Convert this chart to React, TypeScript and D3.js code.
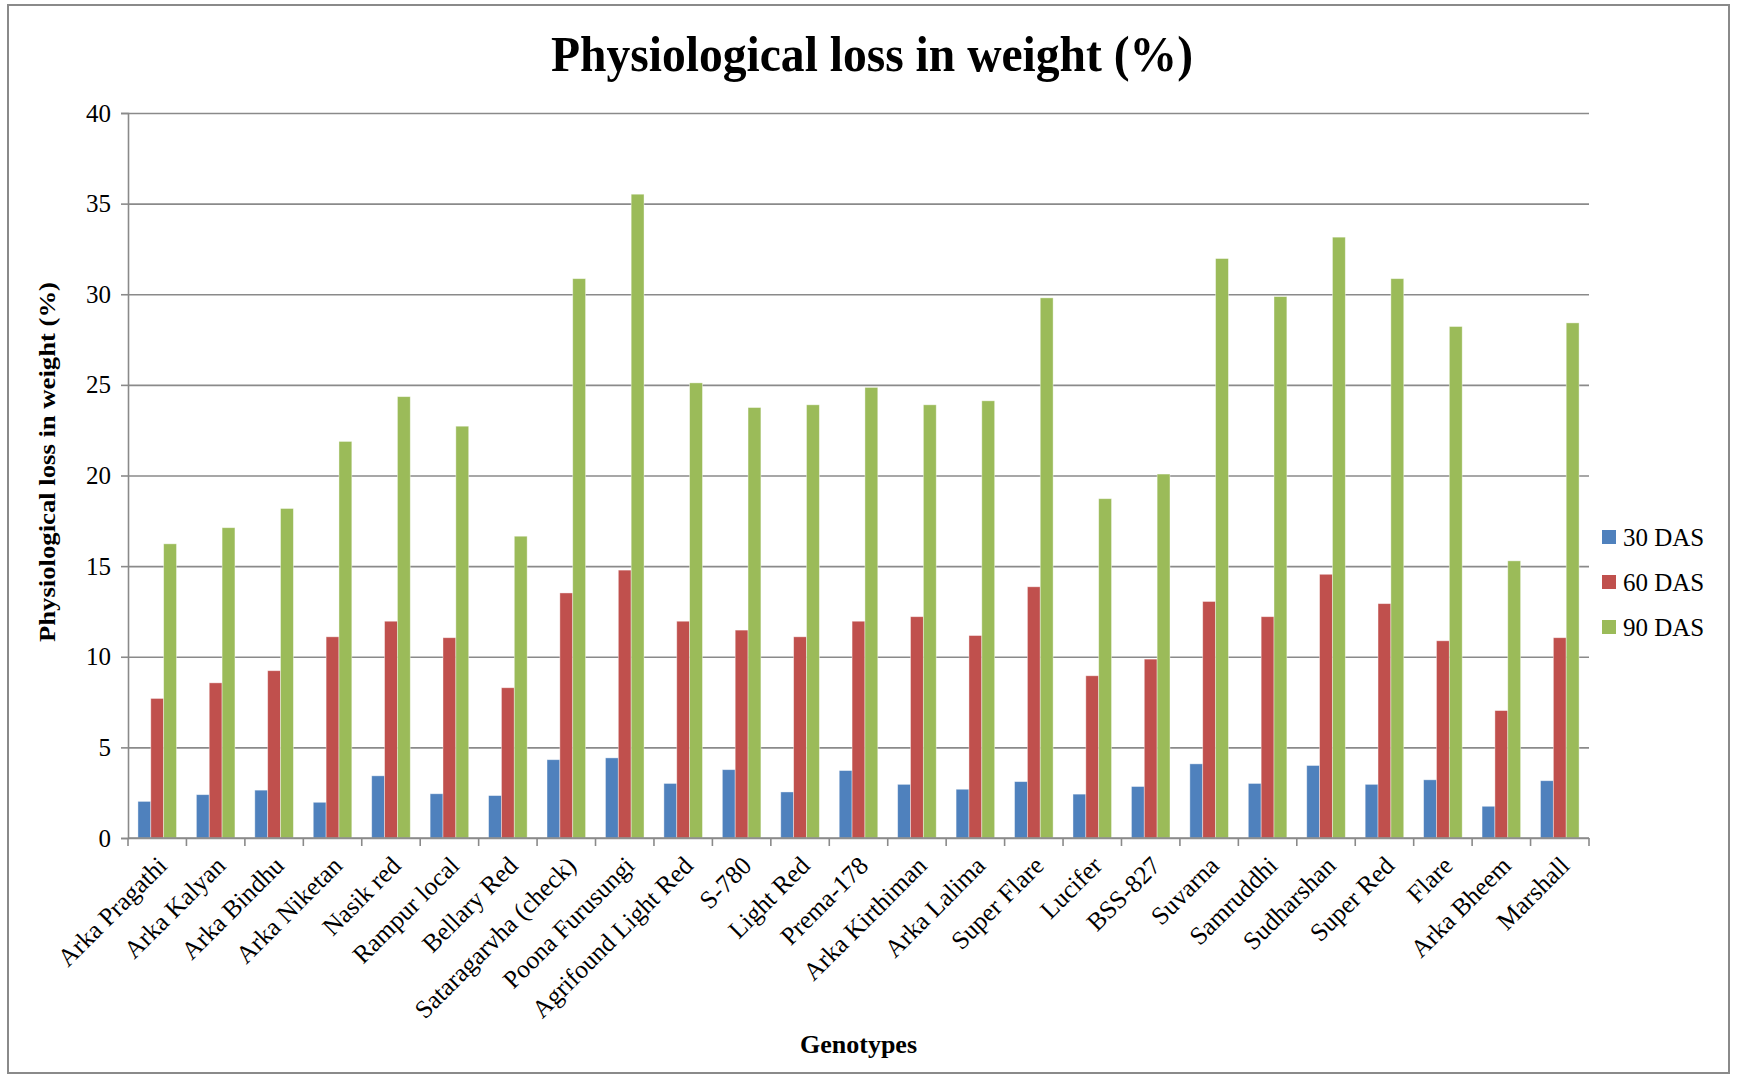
import { useEffect, useRef } from 'react';
import * as d3 from 'd3';

const genotypes = [
  'Arka Pragathi', 'Arka Kalyan', 'Arka Bindhu', 'Arka Niketan', 'Nasik red',
  'Rampur local', 'Bellary Red', 'Sataragarvha (check)', 'Poona Furusungi',
  'Agrifound Light Red', 'S-780', 'Light Red', 'Prema-178', 'Arka Kirthiman',
  'Arka Lalima', 'Super Flare', 'Lucifer', 'BSS-827', 'Suvarna', 'Samruddhi',
  'Sudharshan', 'Super Red', 'Flare', 'Arka Bheem', 'Marshall',
];

const das30 = [
  2.02, 2.39, 2.64, 1.97, 3.43, 2.44, 2.34, 4.32, 4.42, 3.01, 3.77, 2.54, 3.72,
  2.96, 2.69, 3.11, 2.42, 2.84, 4.09, 3.01, 4.0, 2.96, 3.21, 1.75, 3.16,
];
const das60 = [
  7.7, 8.56, 9.23, 11.1, 11.96, 11.05, 8.29, 13.52, 14.78, 11.96, 11.47, 11.1,
  11.96, 12.21, 11.17, 13.86, 8.95, 9.87, 13.05, 12.21, 14.55, 12.93, 10.88,
  7.03, 11.05,
];
const das90 = [
  16.23, 17.12, 18.18, 21.88, 24.35, 22.72, 16.65, 30.86, 35.52, 25.11, 23.75,
  23.9, 24.86, 23.9, 24.12, 29.8, 18.72, 20.08, 31.97, 29.87, 33.15, 30.86,
  28.22, 15.29, 28.42,
];

const seriesNames = ['30 DAS', '60 DAS', '90 DAS'];
const seriesColors = ['#4f81bd', '#c0504d', '#9bbb59'];
const yTicks = [0, 5, 10, 15, 20, 25, 30, 35, 40];

const W = 1737;
const H = 1079;
const FONT = '"Liberation Serif", "Times New Roman", serif';

export default function App() {
  const svgRef = useRef<SVGSVGElement>(null);

  useEffect(() => {
    if (!svgRef.current) return;
    const root = d3.select(svgRef.current);
    root.selectAll('*').remove();

    const margin = { top: 113, right: 148, bottom: 241, left: 128 };
    const width = W - margin.left - margin.right;
    const height = H - margin.top - margin.bottom;

    // chart frame
    root
      .append('rect')
      .attr('x', 8)
      .attr('y', 5)
      .attr('width', 1721)
      .attr('height', 1068)
      .attr('fill', '#fff')
      .attr('stroke', '#8a8a8a')
      .attr('stroke-width', 2);

    // title
    root
      .append('text')
      .attr('x', 872)
      .attr('y', 71)
      .attr('text-anchor', 'middle')
      .attr('font-family', FONT)
      .attr('font-weight', 'bold')
      .attr('font-size', 50)
      .attr('textLength', 642)
      .attr('lengthAdjust', 'spacingAndGlyphs')
      .text('Physiological loss in weight (%)');

    const svg = root
      .append('g')
      .attr('transform', `translate(${margin.left},${margin.top})`);

    const x0 = d3.scaleBand<string>().domain(genotypes).range([0, width]).paddingInner(0.34).paddingOuter(0.17);
    const x1 = d3.scaleBand<number>().domain([0, 1, 2]).range([0, x0.bandwidth()]);
    const y = d3.scaleLinear().domain([0, 40]).range([height, 0]);

    // grid lines
    svg
      .append('g')
      .call(
        d3
          .axisLeft(y)
          .tickValues(yTicks)
          .tickSize(-width)
          .tickFormat(() => '')
      )
      .call((g) => g.select('.domain').remove())
      .selectAll('line')
      .attr('stroke', '#8a8a8a')
      .attr('stroke-width', 1.6);

    // y axis
    const yAxis = svg
      .append('g')
      .call(d3.axisLeft(y).tickValues(yTicks).tickSize(7).tickPadding(10));
    yAxis.select('.domain').attr('stroke', '#8a8a8a').attr('stroke-width', 1.6);
    yAxis.selectAll('line').attr('stroke', '#8a8a8a').attr('stroke-width', 1.6);
    yAxis
      .selectAll('text')
      .attr('font-family', FONT)
      .attr('font-size', 25)
      .attr('fill', '#000');

    // bars
    const seriesData = [das30, das60, das90];
    const groups = svg
      .selectAll('g.group')
      .data(genotypes)
      .enter()
      .append('g')
      .attr('class', 'group')
      .attr('transform', (d) => `translate(${x0(d)},0)`);

    groups
      .selectAll('rect')
      .data((_, i) => seriesData.map((s, k) => ({ k, v: s[i] })))
      .enter()
      .append('rect')
      .attr('x', (d) => x1(d.k) as number)
      .attr('y', (d) => y(d.v))
      .attr('width', x1.bandwidth())
      .attr('height', (d) => height - y(d.v))
      .attr('fill', (d) => seriesColors[d.k])
      .attr('stroke', '#ffffff')
      .attr('stroke-opacity', 0.5)
      .attr('stroke-width', 0.8);

    // x axis
    const step = x0.step();
    const xAxis = svg.append('g').attr('transform', `translate(0,${height})`);
    xAxis
      .append('line')
      .attr('x1', 0)
      .attr('x2', width)
      .attr('stroke', '#8a8a8a')
      .attr('stroke-width', 1.6);
    xAxis
      .selectAll('line.tick')
      .data(d3.range(genotypes.length + 1))
      .enter()
      .append('line')
      .attr('class', 'tick')
      .attr('x1', (i) => i * step)
      .attr('x2', (i) => i * step)
      .attr('y1', 0)
      .attr('y2', 8)
      .attr('stroke', '#8a8a8a')
      .attr('stroke-width', 1.6);
    xAxis
      .selectAll('text.label')
      .data(genotypes)
      .enter()
      .append('text')
      .attr('class', 'label')
      .attr('transform', (d) => {
        const cx = (x0(d) as number) + x0.bandwidth() / 2 + 5;
        return `translate(${cx},23) rotate(-45)`;
      })
      .attr('text-anchor', 'end')
      .attr('dy', '0.35em')
      .attr('font-family', FONT)
      .attr('font-size', 25.5)
      .attr('fill', '#000')
      .text((d) => d);

    // axis titles
    root
      .append('text')
      .attr('x', margin.left + width / 2)
      .attr('y', 1053)
      .attr('text-anchor', 'middle')
      .attr('font-family', FONT)
      .attr('font-weight', 'bold')
      .attr('font-size', 26)
      .text('Genotypes');

    root
      .append('text')
      .attr('transform', 'translate(55,462) rotate(-90)')
      .attr('text-anchor', 'middle')
      .attr('font-family', FONT)
      .attr('font-weight', 'bold')
      .attr('font-size', 24)
      .attr('textLength', 360)
      .attr('lengthAdjust', 'spacingAndGlyphs')
      .text('Physiological loss in weight (%)');

    // legend
    const legend = root
      .append('g')
      .selectAll('g')
      .data(seriesNames)
      .enter()
      .append('g')
      .attr('transform', (_, i) => `translate(1602,${537 + i * 45})`);
    legend
      .append('rect')
      .attr('x', 0)
      .attr('y', -7)
      .attr('width', 14)
      .attr('height', 14)
      .attr('fill', (_, i) => seriesColors[i]);
    legend
      .append('text')
      .attr('x', 21)
      .attr('dy', '0.35em')
      .attr('font-family', FONT)
      .attr('font-size', 25)
      .attr('fill', '#000')
      .text((d) => d);
  }, []);

  return (
    <svg
      ref={svgRef}
      width={W}
      height={H}
      style={{ position: 'absolute', left: 0, top: 0, display: 'block', background: '#fff' }}
    ></svg>
  );
}
